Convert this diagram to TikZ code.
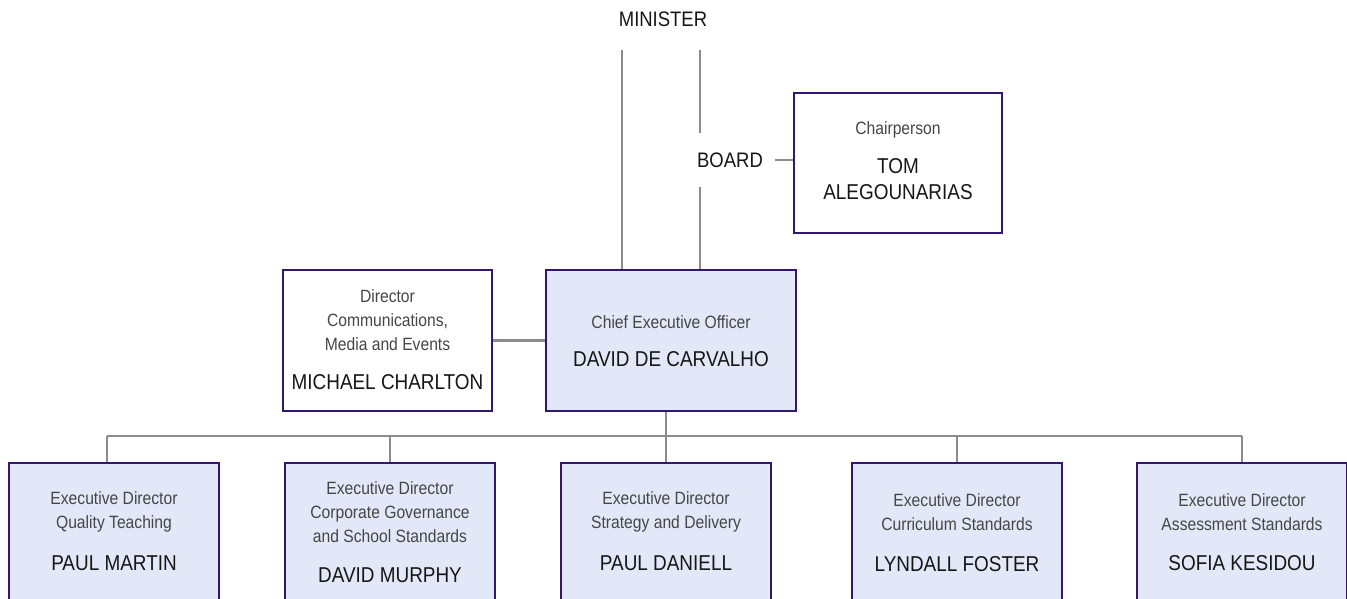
\documentclass[tikz,border=0pt]{standalone}
\usepackage{fontspec}
\setmainfont{Liberation Sans}[FakeStretch=0.88]
\usetikzlibrary{positioning,backgrounds}
\definecolor{boxline}{RGB}{50,22,112}
\definecolor{boxfill}{RGB}{226,232,248}
\definecolor{wire}{RGB}{140,140,140}
\definecolor{ttlgray}{RGB}{70,70,70}
\definecolor{nmgray}{RGB}{22,22,22}
\tikzset{
  box/.style={draw=boxline, line width=2pt, fill=white, anchor=north west,
    minimum width=209, minimum height=141, inner sep=0},
  ttl/.style={font=\fontsize{17.8}{24}\selectfont, text=ttlgray, align=center, inner sep=0},
  nm/.style={font=\fontsize{21.5}{26}\selectfont, text=nmgray, align=center, inner sep=0},
  head/.style={font=\fontsize{21}{24}\selectfont, text=nmgray, inner sep=0},
  wire/.style={draw=wire, line width=2.5pt}
}
\begin{document}
\begin{tikzpicture}[x=1pt,y=-1pt]
    \clip (0,0) rectangle (1347,599);

    % Minister and board
    \node[head] (minister) at (663,19) {MINISTER};
    \coordinate (m1) at (622,50);
    \coordinate (m2) at (700,50);
    \node[head, minimum height=54, inner xsep=12] (board) at (730,160) {BOARD};

    % Chairperson
    \node[box, minimum width=208, minimum height=140] (chair) at (793,92) {};
    \node[ttl] (chair-t) at (chair.north |- 0,130) {Chairperson};
    \node[nm] (chair-n) at (chair.north |- 0,179) {TOM\\ALEGOUNARIAS};

    % Chief executive
    \node[box, fill=boxfill, minimum width=250] (ceo) at (545,269) {};
    \node[ttl] (ceo-t) at (ceo.north |- 0,322) {Chief Executive Officer};
    \node[nm] (ceo-n) at (ceo.north |- 0,359) {DAVID DE CARVALHO};

    % Communications
    \node[box] (comms) at (282,269) {};
    \node[ttl] (comms-t) at (comms.north |- 0,320) {Director\\Communications,\\Media and Events};
    \node[nm] (comms-n) at (comms.north |- 0,382) {MICHAEL CHARLTON};

    % Executive directors
    \foreach \n/\x/\t/\p/\ny in {
        ed1/8/{Executive Director\\Quality Teaching}/PAUL MARTIN/563,
        ed2/284/{Executive Director\\Corporate Governance\\and School Standards}/DAVID MURPHY/575,
        ed3/560/{Executive Director\\Strategy and Delivery}/PAUL DANIELL/563,
        ed4/851/{Executive Director\\Curriculum Standards}/LYNDALL FOSTER/564,
        ed5/1136/{Executive Director\\Assessment Standards}/SOFIA KESIDOU/563}{
      \node[box, fill=boxfill, minimum width=210, minimum height=180] (\n) at (\x,462) {};
      \node[ttl] (\n-t) at (\n.north |- 0,512) {\t};
      \node[nm] (\n-n) at (\n.north |- 0,\ny) {\p};
    }

    % Connectors
    \coordinate (bus) at (0,436);
    \begin{scope}[on background layer]
      \draw[wire] (m1) -- (m1 |- ceo.north);
      \draw[wire] (m2) -- (board.north -| m2);
      \draw[wire] (board.south -| m2) -- (m2 |- ceo.north);
      \draw[wire] (board.east) -- (board.east -| chair.west);
      \draw[wire] (comms.east) -- (ceo.west);
      \draw[wire] (ceo.south -| ed3.north) -- (ed3.north);
      \draw[wire] ([xshift=-7]bus -| ed1.north) -- (bus -| ed5.north);
      \draw[wire] ([xshift=-7]bus -| ed1.north) -- ([xshift=-7]ed1.north);
      \foreach \n in {ed2,ed4,ed5}
        \draw[wire] (bus -| \n.north) -- (\n.north);
    \end{scope}
\end{tikzpicture}
\end{document}
